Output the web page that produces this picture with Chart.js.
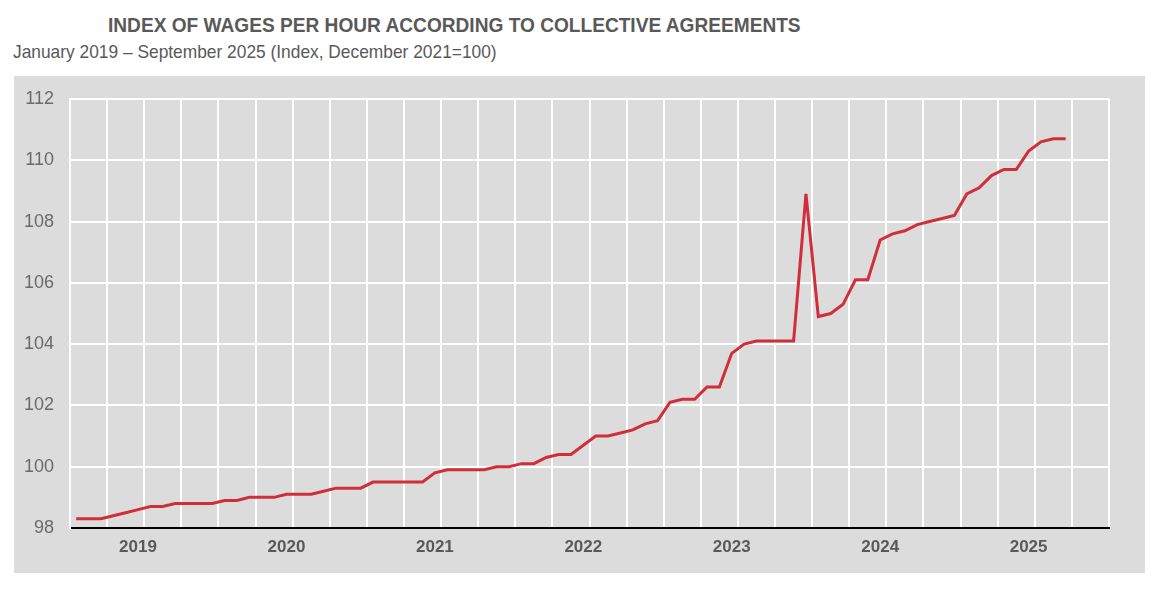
<!DOCTYPE html>
<html>
<head>
<meta charset="utf-8">
<script src="https://cdn.jsdelivr.net/npm/chart.js@4"></script>
<style>
  html, body { margin: 0; padding: 0; background: #ffffff; }
  body { width: 1162px; height: 597px; position: relative; overflow: hidden;
         font-family: "Liberation Sans Narrow", "Arial Narrow", "Liberation Sans", Arial, sans-serif; }
  #title { position: absolute; left: 108px; top: 13px; font-size: 21px; font-weight: bold;
           color: #595959; white-space: nowrap; transform: scaleX(0.91); transform-origin: 0 0; }
  #subtitle { position: absolute; left: 13px; top: 41px; font-size: 19px; color: #595959; white-space: nowrap;
              transform: scaleX(0.913); transform-origin: 0 0; }
  #wrap { position: absolute; left: 14px; top: 76px; width: 1131px; height: 497px; background: #dcdcdc; }
</style>
</head>
<body>
<div id="title">INDEX OF WAGES PER HOUR ACCORDING TO COLLECTIVE AGREEMENTS</div>
<div id="subtitle">January 2019 – September 2025 (Index, December 2021=100)</div>
<div id="wrap"><canvas id="c"></canvas></div>
<script>
const years = ['2019', '2020', '2021', '2022', '2023', '2024', '2025'];
const monthNames = ['Jan', 'Feb', 'Mar', 'Apr', 'May', 'Jun', 'Jul', 'Aug', 'Sep', 'Oct', 'Nov', 'Dec'];
const wageIndex = [
  98.3, 98.3, 98.3, 98.4, 98.5, 98.6, 98.7, 98.7, 98.8, 98.8, 98.8, 98.8,
  98.9, 98.9, 99.0, 99.0, 99.0, 99.1, 99.1, 99.1, 99.2, 99.3, 99.3, 99.3,
  99.5, 99.5, 99.5, 99.5, 99.5, 99.8, 99.9, 99.9, 99.9, 99.9, 100.0, 100.0,
  100.1, 100.1, 100.3, 100.4, 100.4, 100.7, 101.0, 101.0, 101.1, 101.2, 101.4, 101.5,
  102.1, 102.2, 102.2, 102.6, 102.6, 103.7, 104.0, 104.1, 104.1, 104.1, 104.1, 108.9,
  104.9, 105.0, 105.3, 106.1, 106.1, 107.4, 107.6, 107.7, 107.9, 108.0, 108.1, 108.2,
  108.9, 109.1, 109.5, 109.7, 109.7, 110.3, 110.6, 110.7, 110.7
];
const yMin = 98, yMax = 112, yStep = 2;

const labels = [];
years.forEach(y => monthNames.forEach(m => labels.push(m + ' ' + y)));

const narrow = '"Liberation Sans Narrow", "Arial Narrow", "Liberation Sans", Arial, sans-serif';

new Chart(document.getElementById('c'), {
  type: 'line',
  data: {
    labels: labels,
    datasets: [{
      data: wageIndex,
      borderColor: '#cf2e3a',
      borderWidth: 3,
      pointRadius: 0,
      tension: 0,
      fill: false
    }]
  },
  options: {
    responsive: true,
    maintainAspectRatio: false,
    animation: false,
    layout: { padding: { left: 0, top: 23, right: 36, bottom: 0 } },
    plugins: { legend: { display: false }, tooltip: { enabled: false }, title: { display: false } },
    scales: {
      x: {
        type: 'category',
        offset: true,
        afterFit: s => { s.height = 45; s.paddingLeft = 0; s.paddingRight = 0; },
        grid: {
          offset: true,
          drawTicks: false,
          lineWidth: 2,
          color: ctx => (ctx.index === undefined || ctx.index % 3 === 0) ? '#ffffff' : 'rgba(0,0,0,0)'
        },
        border: { display: true, color: '#000000', width: 2 },
        ticks: {
          autoSkip: false,
          maxRotation: 0,
          minRotation: 0,
          padding: 9,
          color: '#595959',
          font: { family: narrow, size: 17, weight: 'bold' },
          callback: (v, i) => (i % 12 === 5) ? years[Math.floor(i / 12)] : ''
        }
      },
      y: {
        min: yMin,
        max: yMax,
        afterFit: s => { s.width = 56; s.paddingTop = 0; s.paddingBottom = 0; },
        grid: {
          drawTicks: false,
          lineWidth: 2,
          color: ctx => (ctx.index === 0) ? 'rgba(0,0,0,0)' : '#ffffff'
        },
        border: { display: true, color: '#ffffff', width: 2 },
        ticks: {
          stepSize: yStep,
          padding: 16,
          color: '#6a6a6a',
          font: { family: narrow, size: 18 }
        }
      }
    }
  }
});
</script>
</body>
</html>
